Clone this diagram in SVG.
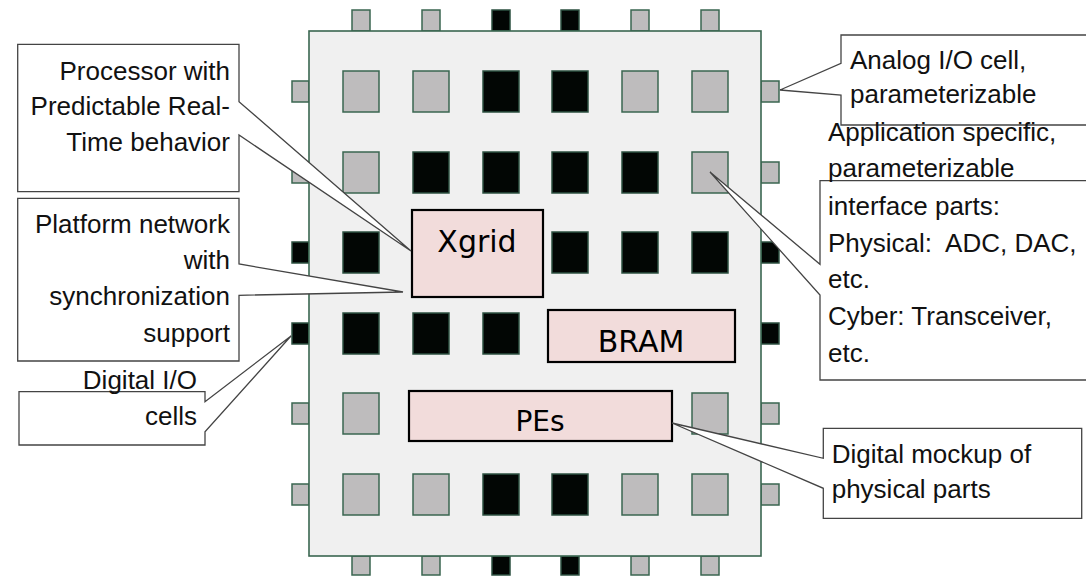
<svg xmlns="http://www.w3.org/2000/svg" width="1086" height="587" viewBox="0 0 1086 587">
  <style>
    .chip { fill: #f0f0f0; stroke: #3a6650; stroke-width: 1.6; }
    .g { fill: #bebcbd; stroke: #3a6650; stroke-width: 1.5; }
    .b { fill: #020604; stroke: #2c5040; stroke-width: 1.5; }
    .blk { fill: #f2dcdb; stroke: #000; stroke-width: 2.2; }
    .blkt { font-family: "DejaVu Sans", Verdana, sans-serif; fill: #000; text-anchor: middle; }
    .co { fill: #fff; stroke: #444; stroke-width: 1.3; stroke-linejoin: miter; }
    .ct { font-family: "Liberation Sans", Arial, sans-serif; font-size: 26px; fill: #111; }
    .r { text-anchor: end; }
  </style>

  <!-- I/O pins around the die -->
  <g id="pins">
    <rect class="g" x="352" y="10" width="18" height="21"/>
    <rect class="g" x="422" y="10" width="18" height="21"/>
    <rect class="b" x="492" y="10" width="18" height="21"/>
    <rect class="b" x="561" y="10" width="18" height="21"/>
    <rect class="g" x="631" y="10" width="18" height="21"/>
    <rect class="g" x="701" y="10" width="18" height="21"/>

    <rect class="g" x="352" y="556" width="18" height="19"/>
    <rect class="g" x="422" y="556" width="18" height="19"/>
    <rect class="b" x="492" y="556" width="18" height="19"/>
    <rect class="b" x="561" y="556" width="18" height="19"/>
    <rect class="g" x="631" y="556" width="18" height="19"/>
    <rect class="g" x="701" y="556" width="18" height="19"/>

    <rect class="g" x="292" y="81" width="17" height="21"/>
    <rect class="g" x="292" y="162" width="17" height="21"/>
    <rect class="b" x="292" y="242" width="17" height="21"/>
    <rect class="b" x="292" y="323" width="17" height="21"/>
    <rect class="g" x="292" y="403" width="17" height="21"/>
    <rect class="g" x="292" y="484" width="17" height="21"/>

    <rect class="g" x="761" y="81" width="18" height="21"/>
    <rect class="g" x="761" y="162" width="18" height="21"/>
    <rect class="b" x="761" y="242" width="18" height="21"/>
    <rect class="b" x="761" y="323" width="18" height="21"/>
    <rect class="g" x="761" y="403" width="18" height="21"/>
    <rect class="g" x="761" y="484" width="18" height="21"/>
  </g>

  <!-- die outline -->
  <g id="chip">
    <rect class="chip" x="309" y="31" width="452" height="525"/>
  </g>

  <!-- interface cell grid -->
  <g id="cells">
    <rect class="g" x="343" y="71" width="36" height="41"/>
    <rect class="g" x="413" y="71" width="36" height="41"/>
    <rect class="b" x="483" y="71" width="36" height="41"/>
    <rect class="b" x="552" y="71" width="36" height="41"/>
    <rect class="g" x="622" y="71" width="36" height="41"/>
    <rect class="g" x="692" y="71" width="36" height="41"/>

    <rect class="g" x="343" y="152" width="36" height="41"/>
    <rect class="b" x="413" y="152" width="36" height="41"/>
    <rect class="b" x="483" y="152" width="36" height="41"/>
    <rect class="b" x="552" y="152" width="36" height="41"/>
    <rect class="b" x="622" y="152" width="36" height="41"/>
    <rect class="g" x="692" y="152" width="36" height="41"/>

    <rect class="b" x="343" y="232" width="36" height="41"/>
    <rect class="b" x="552" y="232" width="36" height="41"/>
    <rect class="b" x="622" y="232" width="36" height="41"/>
    <rect class="b" x="692" y="232" width="36" height="41"/>

    <rect class="b" x="343" y="313" width="36" height="41"/>
    <rect class="b" x="413" y="313" width="36" height="41"/>
    <rect class="b" x="483" y="313" width="36" height="41"/>

    <rect class="g" x="343" y="393" width="36" height="41"/>
    <rect class="g" x="692" y="393" width="36" height="41"/>

    <rect class="g" x="343" y="474" width="36" height="41"/>
    <rect class="g" x="413" y="474" width="36" height="41"/>
    <rect class="b" x="483" y="474" width="36" height="41"/>
    <rect class="b" x="552" y="474" width="36" height="41"/>
    <rect class="g" x="622" y="474" width="36" height="41"/>
    <rect class="g" x="692" y="474" width="36" height="41"/>
  </g>

  <!-- functional blocks -->
  <g id="node-xgrid">
    <rect class="blk" x="412" y="210" width="131" height="87"/>
    <text class="blkt" x="477" y="252" font-size="30">Xgrid</text>
  </g>
  <g id="node-bram">
    <rect class="blk" x="548" y="310" width="187" height="52"/>
    <text class="blkt" x="641" y="352" font-size="30">BRAM</text>
  </g>
  <g id="node-pes">
    <rect class="blk" x="409" y="391" width="263" height="50"/>
    <text class="blkt" x="540" y="431" font-size="28">PEs</text>
  </g>

  <!-- annotation callouts (box with pointer wedge) -->
  <g id="callout-processor">
    <path class="co" d="M17.7,44.3 H239 V101.7 L411,251 L239,135 V191.7 H17.7 Z"/>
    <text class="ct r" x="230" y="79.5">Processor with</text>
    <text class="ct r" x="230" y="115">Predictable Real-</text>
    <text class="ct r" x="230" y="150.5">Time behavior</text>
  </g>

  <g id="callout-network">
    <path class="co" d="M17.7,198.3 H239 V264 L403,292 L239,295.3 V361 H17.7 Z"/>
    <text class="ct r" x="230" y="232.7">Platform network</text>
    <text class="ct r" x="230" y="269">with</text>
    <text class="ct r" x="230" y="305">synchronization</text>
    <text class="ct r" x="230" y="341.7">support</text>
  </g>

  <g id="callout-digital-io">
    <path class="co" d="M19,391.7 H205 V401.7 L291,336 L205,431.7 V445 H19 Z"/>
    <text class="ct r" x="197" y="389">Digital I/O</text>
    <text class="ct r" x="197" y="425">cells</text>
  </g>

  <g id="callout-analog-io">
    <path class="co" d="M841,35 H1092 V125 H841 V95 L780,90 L841,63.3 Z"/>
    <text class="ct" x="850" y="69.3">Analog I/O cell,</text>
    <text class="ct" x="850" y="103">parameterizable</text>
  </g>

  <g id="callout-interface">
    <path class="co" d="M820,180.7 H1092 V380 H820 V295 L710,172 L820,264.3 Z"/>
    <text class="ct" x="828" y="140.5">Application specific,</text>
    <text class="ct" x="828" y="176.7">parameterizable</text>
    <text class="ct" x="828" y="215">interface parts:</text>
    <text class="ct" x="828" y="251.7" xml:space="preserve">Physical:  ADC, DAC,</text>
    <text class="ct" x="828" y="288.3">etc.</text>
    <text class="ct" x="828" y="325">Cyber: Transceiver,</text>
    <text class="ct" x="828" y="361.7">etc.</text>
  </g>

  <g id="callout-mockup">
    <path class="co" d="M823.3,428.3 H1081.7 V518.3 H823.3 V488.3 L672,423 L823.3,458.3 Z"/>
    <text class="ct" x="831.7" y="463.3">Digital mockup of</text>
    <text class="ct" x="831.7" y="498.3">physical parts</text>
  </g>
</svg>
